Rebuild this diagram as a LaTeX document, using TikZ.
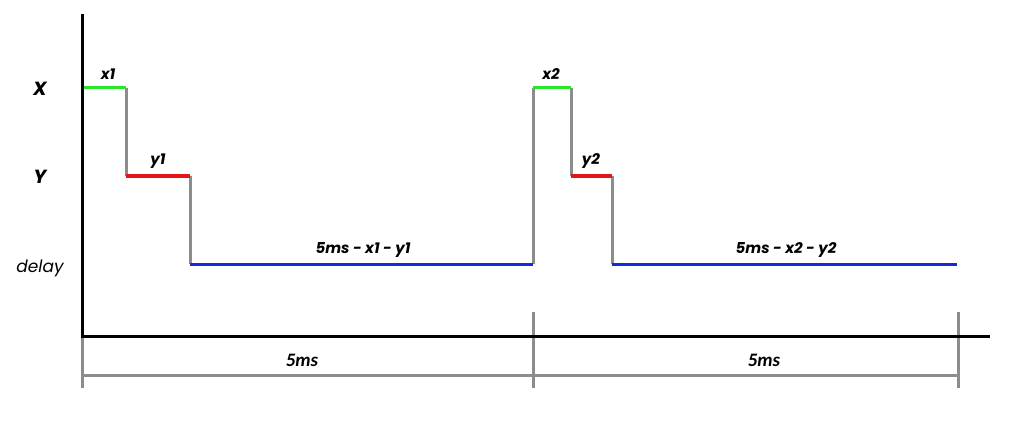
\documentclass[tikz,border=0pt]{standalone}
\usepackage{fontspec}
\setmainfont{Poppins}
\newfontfamily\calib{Carlito}
\begin{document}
\begin{tikzpicture}[x=1pt,y=-1pt,
  sig/.style={line width=3pt},
  grayl/.style={line width=3pt, draw={rgb,255:red,140;green,140;blue,140}},
  axis/.style={line width=3pt, draw=black},
  lbl/.style={font=\fontsize{15}{17}\selectfont\itshape\bfseries, inner sep=0pt},
  big/.style={font=\fontsize{19}{21}\selectfont\itshape\bfseries, inner sep=0pt},
  dl/.style={font=\fontsize{17}{19}\selectfont\itshape, inner sep=0pt},
  cal/.style={font={\calib\fontsize{19}{21}\selectfont\itshape\bfseries}, inner sep=0pt}]
\definecolor{sgreen}{RGB}{40,230,40}
\definecolor{sred}{RGB}{230,20,20}
\definecolor{sblue}{RGB}{20,40,220}
\useasboundingbox (0,0) rectangle (1024,422);
% coordinates
\coordinate (a0) at (84,88);
\coordinate (a1) at (126,88);
\coordinate (a2) at (126,176);
\coordinate (a3) at (190,176);
\coordinate (a4) at (190,264);
\coordinate (a5) at (533,264);
\coordinate (b0) at (533,88);
\coordinate (b1) at (571,88);
\coordinate (b2) at (571,176);
\coordinate (b3) at (612,176);
\coordinate (b4) at (612,264);
\coordinate (b5) at (957,264);
% gray verticals
\draw[grayl] (a1) -- (a2);
\draw[grayl] (a3) -- (a4);
\draw[grayl] (a5) -- (b0);
\draw[grayl] (b1) -- (b2);
\draw[grayl] (b3) -- (b4);
% signals
\draw[sig, sgreen] (a0) -- (a1);
\draw[sig, sred] (a2) -- (a3);
\draw[sig, sblue] (a4) -- (a5);
\draw[sig, sgreen] (b0) -- (b1);
\draw[sig, sred] (b2) -- (b3);
\draw[sig, sblue] (b4) -- (b5);
% bottom dimension
\coordinate (t0a) at (82,336);
\coordinate (t0b) at (82,388);
\coordinate (t1a) at (533,312);
\coordinate (t1b) at (533,388);
\coordinate (t2a) at (958,312);
\coordinate (t2b) at (958,388);
\coordinate (d0) at (82,375);
\coordinate (d2) at (958,375);
\draw[grayl] (t0a) -- (t0b);
\draw[grayl] (t1a) -- (t1b);
\draw[grayl] (t2a) -- (t2b);
\draw[grayl] (d0) -- (d2);
% axes
\coordinate (o) at (82,336);
\coordinate (ytop) at (82,14);
\coordinate (xend) at (990,336);
\draw[axis] (ytop) -- (o) -- (xend);
% labels
\node[big] (lX) at (40,89) {X};
\node[big] (lY) at (40,177) {Y};
\node[dl] (ld) at (40,268) {delay};
\node[lbl] (lx1) at (108,74) {x1};
\node[lbl] (ly1) at (158,161) {y1};
\node[lbl] (lx2) at (551,74) {x2};
\node[lbl] (ly2) at (591,161) {y2};
\node[lbl] (lr1) at (363,250) {5ms - x1 - y1};
\node[lbl] (lr2) at (786,250) {5ms - x2 - y2};
\node[cal] (m1) at (302,360) {5ms};
\node[cal] (m2) at (764,360) {5ms};
\end{tikzpicture}
\end{document}
